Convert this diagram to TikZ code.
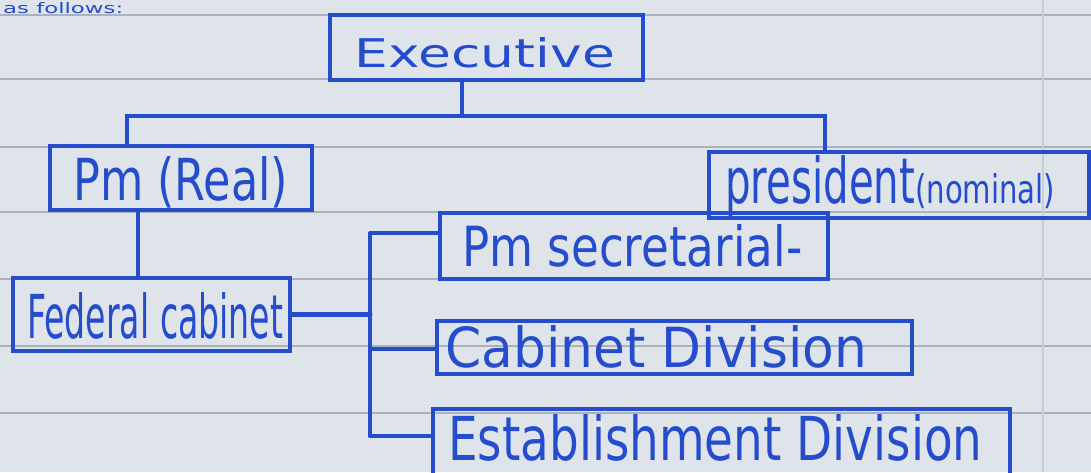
\documentclass[tikz,border=0pt]{standalone}
\usepackage{fontspec}
\setmainfont{DejaVu Sans}
\definecolor{ink}{RGB}{36,76,205}
\definecolor{paper}{RGB}{222,228,234}
\definecolor{ruleln}{RGB}{172,178,186}
\definecolor{marginln}{RGB}{200,206,214}
\newcommand{\hw}[3]{\resizebox{#1pt}{#2pt}{#3}}
\begin{document}
\begin{tikzpicture}[x=1pt,y=-1pt,
  box/.style={draw=ink,line width=3.4pt,rectangle,inner sep=0pt},
  wire/.style={draw=ink,line width=3.4pt,line cap=round},
  txt/.style={text=ink,inner sep=0pt},
  ruled/.style={draw=ruleln,line width=1.3pt}]
\useasboundingbox (0,0) rectangle (1091,472);
\clip (0,0) rectangle (1091,472);
\fill[paper] (0,0) rectangle (1091,472);
% ruled paper
\foreach \yy in {15,79,147,212,279,346,413} {\draw[ruled] (0,\yy) -- (1091,\yy);}
\draw[draw=marginln,line width=1.5pt] (1043,0) -- (1043,472);
% top-left text
\node[txt,anchor=base west] (frag) at (3,13) {\hw{120}{11}{as follows:}};
% boxes
\node[box,minimum width=313pt,minimum height=65pt] (exe) at (486.5,47.5) {};
\node[box,minimum width=262pt,minimum height=64pt] (pm) at (181,178) {};
\node[box,minimum width=380pt,minimum height=66pt] (pres) at (899,185) {};
\node[box,minimum width=277pt,minimum height=73pt] (fed) at (151.5,314.5) {};
\node[box,minimum width=388pt,minimum height=66pt] (sec) at (634,246) {};
\node[box,minimum width=475pt,minimum height=53pt] (cab) at (674.5,347.5) {};
\node[box,minimum width=577pt,minimum height=81pt] (est) at (721.5,449.5) {};
% texts
\node[txt,anchor=base] (exeT) at (485,67) {\hw{260}{30}{Executive}};
\node[txt,anchor=base west] (pmT) at (73,200) {\hw{215}{44}{Pm (Real)}};
\node[txt,anchor=base west] (presT) at (725,203) {\hw{190}{48}{president}\hw{140}{30}{(nominal)}};
\node[txt,anchor=base west] (fedT) at (27,338) {\hw{256}{46}{Federal cabinet}};
\node[txt,anchor=base west] (secT) at (462,266) {\hw{340}{42}{Pm secretarial-}};
\node[txt,anchor=base west] (cabT) at (445,367) {\hw{422}{42}{Cabinet Division}};
\node[txt,anchor=base west] (estT) at (448,460) {\hw{534}{46}{Establishment Division}};
% connectors
\coordinate (j0) at (462,116);
\coordinate (jl) at (127,116);
\coordinate (jr) at (825,116);
\draw[wire] (exe.south -| j0) -- (j0);
\draw[wire] (pm.north -| jl) -- (jl) -- (jr) -- (pres.north -| jr);
\coordinate (pmx) at (138,0);
\draw[wire] (pm.south -| pmx) -- (fed.north -| pmx);
\coordinate (bt) at (370,233);
\coordinate (bc) at (370,349);
\coordinate (bb) at (370,436);
\draw[wire] (bt) -- (bb);
\draw[wire,line width=5pt] (fed.east) -- (fed.east -| bt);
\draw[wire] (bt) -- (bt -| sec.west);
\draw[wire] (bc) -- (bc -| cab.west);
\draw[wire,line width=4.2pt] (bb) -- (bb -| est.west);
\end{tikzpicture}
\end{document}
